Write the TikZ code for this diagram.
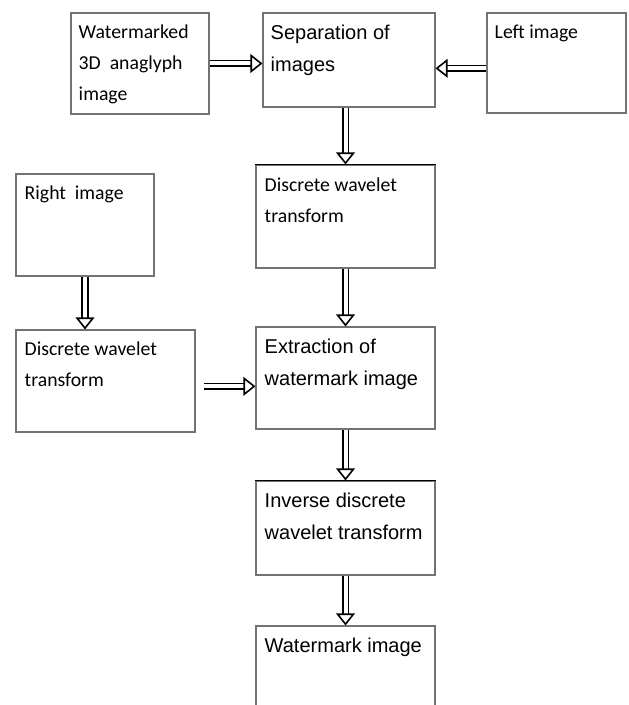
\documentclass[tikz,border=0pt]{standalone}
\usepackage{fontspec}
\setmainfont{Carlito}
\newfontfamily\arialfont{Liberation Sans}
\usetikzlibrary{arrows.meta,positioning}

\begin{document}
\begin{tikzpicture}[x=0.75pt, y=-0.75pt,
    box/.style 2 args={draw=black!55, line width=0.8pt, inner sep=0pt,
      minimum width=#1*0.75pt, minimum height=#2*0.75pt},
    txt/.style={anchor=north west, inner sep=0pt, align=left},
    cal/.style={font=\fontsize{14.8}{23.3}\selectfont},
    ari/.style={font=\arialfont\fontsize{15}{24}\selectfont},
    flow/.style={double=white, double distance=3pt, line width=1.2pt,
      -{Triangle[open, length=9pt, width=14pt]}}]
  \useasboundingbox (0,0) rectangle (628,705);
  % boxes
  \node[box={138}{101}] (wm3d) at (140,63.5) {};
  \node[box={172}{94}] (sep) at (349,60) {};
  \node[box={139}{100}] (left) at (556.5,63) {};
  \node[box={179}{103}] (dwt1) at (345.5,216.5) {};
  \node[box={138}{102}] (right) at (85,225) {};
  \node[box={179}{102}] (dwt2) at (105.5,381) {};
  \node[box={179}{102}] (extr) at (345.5,378) {};
  \node[box={179}{94}] (inv) at (345.5,528) {};
  \node[box={179}{110}] (wmimg) at (345.5,681) {};
  \draw[line width=1.2pt] (dwt1.north west) -- (dwt1.north east);
  \draw[line width=1.2pt] (inv.north west) -- (inv.north east);
  % texts
  \node[txt, cal] (wm3d-t) at ([shift={(8,12)}]wm3d.north west) {Watermarked\\3D~~anaglyph\\image};
  \node[txt, ari] (sep-t) at ([shift={(8,12)}]sep.north west) {Separation of\\images};
  \node[txt, cal] (left-t) at ([shift={(8,12)}]left.north west) {Left image};
  \node[txt, cal] (dwt1-t) at ([shift={(9,13)}]dwt1.north west) {Discrete wavelet\\transform};
  \node[txt, cal] (right-t) at ([shift={(9,12)}]right.north west) {Right~~image};
  \node[txt, cal] (dwt2-t) at ([shift={(9,12)}]dwt2.north west) {Discrete wavelet\\transform};
  \node[txt, ari] (extr-t) at ([shift={(9,12)}]extr.north west) {Extraction of\\watermark image};
  \node[txt, ari] (inv-t) at ([shift={(9,12)}]inv.north west) {Inverse discrete\\wavelet transform};
  \node[txt, ari] (wmimg-t) at ([shift={(9,12)}]wmimg.north west) {Watermark image};
  % arrows
  \draw[flow] (wm3d.east) -- (wm3d.east -| sep.west);
  \draw[flow] ([yshift=-4pt]left.west) -- ([yshift=-4pt]left.west -| sep.east);
  \draw[flow] (sep.south -| dwt1.north) -- (dwt1.north);
  \draw[flow] (dwt1) -- (extr);
  \draw[flow] (right) -- (right |- dwt2.north);
  \draw[flow, shorten <=6pt] ([yshift=-4pt]dwt2.east) -- ([yshift=-4pt]dwt2.east -| extr.west);
  \draw[flow] (extr) -- (inv);
  \draw[flow] (inv) -- (wmimg);
\end{tikzpicture}
\end{document}
